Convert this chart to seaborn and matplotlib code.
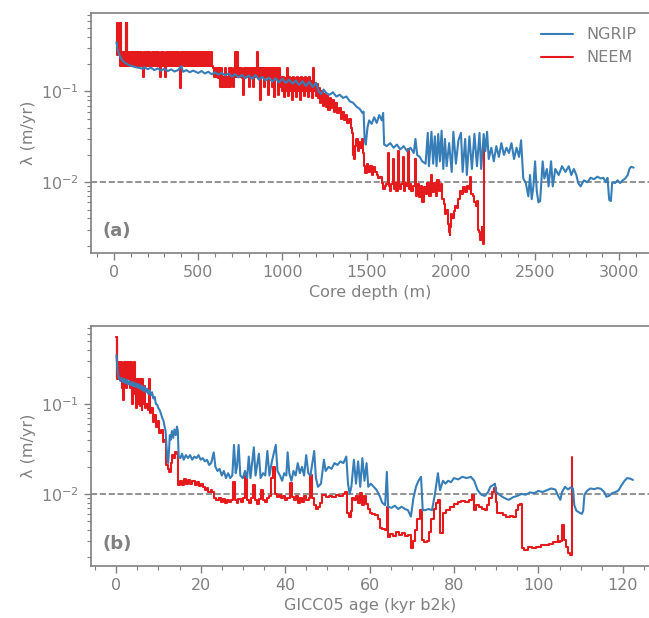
import numpy as np
import pandas as pd
import matplotlib
matplotlib.use("Agg")
import matplotlib.pyplot as plt
from matplotlib.ticker import MultipleLocator
import seaborn as sns

# ---------------- data: panel (a), vs core depth ----------------
ngrip_depth = [15, 20, 30, 40, 55, 70, 90, 110, 130, 150, 170, 180, 200, 220, 240, 260, 280, 300, 320, 340,
               360, 380, 400, 410, 430, 450, 470, 500, 520, 540, 560, 580, 600, 620, 640, 660, 680, 700, 720, 740,
               760, 780, 800, 820, 840, 860, 880, 900, 920, 940, 960, 980, 1000, 1020, 1040, 1060, 1080, 1100, 1120, 1140,
               1160, 1180, 1200, 1215, 1230, 1245, 1260, 1280, 1300, 1320, 1340, 1360, 1380, 1400, 1420, 1440, 1460, 1475, 1482, 1488,
               1495, 1505, 1515, 1530, 1545, 1560, 1575, 1590, 1598, 1604, 1620, 1640, 1660, 1680, 1700, 1720, 1740, 1760, 1780, 1790,
               1800, 1815, 1830, 1850, 1863, 1870, 1885, 1895, 1905, 1915, 1925, 1935, 1945, 1955, 1965, 1975, 1990, 2005, 2015, 2030,
               2045, 2060, 2070, 2085, 2095, 2110, 2125, 2140, 2155, 2170, 2180, 2195, 2205, 2215, 2225, 2240, 2255, 2270, 2285, 2300,
               2315, 2330, 2345, 2360, 2375, 2390, 2405, 2417, 2430, 2445, 2460, 2470, 2480, 2490, 2500, 2510, 2520, 2530, 2545, 2555,
               2570, 2580, 2595, 2605, 2620, 2640, 2660, 2680, 2700, 2715, 2730, 2745, 2756, 2770, 2790, 2810, 2830, 2850, 2870, 2890,
               2905, 2920, 2930, 2940, 2950, 2958, 2975, 2990, 3005, 3020, 3035, 3050, 3060, 3070, 3085]
ngrip_lam_d = [0.35, 0.30, 0.26, 0.235, 0.215, 0.205, 0.195, 0.19, 0.185, 0.182, 0.178, 0.186, 0.176, 0.183, 0.172, 0.18, 0.17, 0.178, 0.168, 0.175,
               0.166, 0.172, 0.19, 0.165, 0.172, 0.163, 0.17, 0.16, 0.168, 0.158, 0.165, 0.155, 0.163, 0.153, 0.16, 0.15, 0.158, 0.146, 0.155, 0.143,
               0.152, 0.14, 0.15, 0.138, 0.152, 0.135, 0.145, 0.132, 0.142, 0.128, 0.14, 0.126, 0.138, 0.124, 0.135, 0.122, 0.132, 0.118, 0.13, 0.115,
               0.128, 0.112, 0.125, 0.10, 0.094, 0.105, 0.096, 0.092, 0.098, 0.088, 0.092, 0.085, 0.088, 0.078, 0.075, 0.068, 0.064, 0.058, 0.06, 0.03,
               0.026, 0.04, 0.048, 0.044, 0.052, 0.045, 0.055, 0.048, 0.058, 0.026, 0.025, 0.027, 0.024, 0.026, 0.023, 0.025, 0.022, 0.024, 0.021, 0.03,
               0.02, 0.019, 0.017, 0.016, 0.035, 0.015, 0.036, 0.016, 0.032, 0.015, 0.034, 0.017, 0.037, 0.014, 0.03, 0.015, 0.027, 0.013, 0.036, 0.016,
               0.029, 0.035, 0.013, 0.03, 0.012, 0.032, 0.014, 0.034, 0.015, 0.035, 0.014, 0.034, 0.022, 0.036, 0.018, 0.024, 0.017, 0.025, 0.019, 0.027,
               0.02, 0.024, 0.021, 0.027, 0.018, 0.024, 0.019, 0.029, 0.011, 0.0098, 0.007, 0.012, 0.0065, 0.009, 0.017, 0.008, 0.006, 0.0062, 0.017, 0.011,
               0.014, 0.009, 0.017, 0.009, 0.014, 0.012, 0.015, 0.013, 0.015, 0.012, 0.014, 0.012, 0.0098, 0.009, 0.0105, 0.010, 0.0112, 0.0108, 0.0115, 0.011,
               0.0112, 0.010, 0.0112, 0.0064, 0.0062, 0.010, 0.0098, 0.0105, 0.0098, 0.0105, 0.011, 0.012, 0.014, 0.0148, 0.0145]

neem_depth = [18, 20, 23, 26, 29, 32, 35, 38, 41, 44, 48, 52, 56, 60, 64, 68, 71, 74, 77, 80,
              85, 90, 95, 100, 105, 110, 115, 120, 126, 132, 138, 144, 150, 156, 162, 168, 173, 178, 184, 190,
              196, 202, 208, 214, 220, 226, 232, 238, 244, 250, 256, 262, 268, 274, 280, 286, 292, 298, 304, 310,
              316, 322, 328, 334, 340, 346, 352, 358, 364, 370, 376, 382, 388, 393, 398, 404, 410, 416, 422, 428,
              434, 440, 446, 452, 458, 464, 470, 476, 482, 488, 494, 500, 506, 512, 518, 524, 530, 536, 542, 548,
              554, 560, 566, 572, 578, 584, 590, 596, 602, 608, 614, 620, 626, 632, 638, 644, 650, 656, 662, 668,
              674, 680, 686, 692, 698, 704, 710, 716, 720, 724, 730, 736, 740, 746, 752, 758, 764, 770, 776, 782,
              788, 794, 800, 806, 812, 818, 824, 830, 836, 842, 848, 851, 856, 862, 868, 874, 880, 886, 892, 898,
              904, 910, 916, 922, 928, 934, 940, 946, 952, 958, 964, 970, 976, 982, 988, 994, 1000, 1006, 1012, 1018,
              1024, 1030, 1036, 1042, 1048, 1054, 1060, 1066, 1072, 1078, 1084, 1090, 1096, 1102, 1108, 1114, 1120, 1126, 1132, 1138,
              1144, 1150, 1156, 1162, 1168, 1174, 1180, 1185, 1190, 1196, 1202, 1208, 1214, 1220, 1228, 1236, 1244, 1252, 1260, 1268,
              1276, 1284, 1292, 1300, 1310, 1320, 1330, 1340, 1350, 1360, 1370, 1380, 1390, 1400, 1410, 1417, 1422, 1428, 1434, 1442,
              1450, 1458, 1466, 1474, 1482, 1488, 1495, 1505, 1515, 1525, 1535, 1545, 1555, 1565, 1575, 1585, 1595, 1605, 1613, 1620,
              1628, 1634, 1642, 1650, 1658, 1664, 1672, 1680, 1688, 1694, 1702, 1710, 1718, 1724, 1732, 1740, 1748, 1754, 1762, 1770,
              1780, 1790, 1796, 1805, 1815, 1825, 1835, 1845, 1855, 1865, 1875, 1885, 1895, 1905, 1915, 1925, 1935, 1945, 1955, 1962,
              1970, 1978, 1985, 1990, 1994, 2000, 2006, 2012, 2020, 2030, 2040, 2050, 2060, 2070, 2080, 2090, 2100, 2110, 2119, 2125,
              2135, 2145, 2155, 2160, 2165, 2172, 2180, 2184, 2190, 2196, 2198]
neem_lam_d = [0.57, 0.25, 0.57, 0.27, 0.57, 0.27, 0.57, 0.19, 0.57, 0.27, 0.19, 0.27, 0.19, 0.27, 0.19, 0.27, 0.57, 0.19, 0.57, 0.19,
              0.27, 0.19, 0.27, 0.19, 0.27, 0.19, 0.27, 0.19, 0.27, 0.19, 0.27, 0.19, 0.27, 0.19, 0.27, 0.19, 0.145, 0.27, 0.19, 0.27,
              0.19, 0.27, 0.19, 0.27, 0.19, 0.27, 0.19, 0.27, 0.19, 0.27, 0.19, 0.27, 0.19, 0.145, 0.27, 0.19, 0.27, 0.19, 0.145, 0.27,
              0.19, 0.27, 0.19, 0.27, 0.19, 0.27, 0.19, 0.27, 0.19, 0.27, 0.19, 0.27, 0.19, 0.11, 0.27, 0.19, 0.27, 0.19, 0.27, 0.19,
              0.27, 0.19, 0.27, 0.19, 0.27, 0.19, 0.27, 0.19, 0.27, 0.19, 0.27, 0.19, 0.27, 0.19, 0.27, 0.19, 0.27, 0.19, 0.27, 0.19,
              0.27, 0.19, 0.27, 0.19, 0.27, 0.19, 0.18, 0.145, 0.18, 0.145, 0.18, 0.14, 0.18, 0.112, 0.18, 0.112, 0.145, 0.112, 0.18, 0.112,
              0.145, 0.112, 0.18, 0.112, 0.18, 0.145, 0.112, 0.18, 0.27, 0.145, 0.18, 0.27, 0.145, 0.18, 0.145, 0.18, 0.14, 0.092, 0.18, 0.145,
              0.18, 0.145, 0.18, 0.112, 0.18, 0.145, 0.18, 0.112, 0.18, 0.145, 0.18, 0.27, 0.145, 0.18, 0.08, 0.18, 0.145, 0.18, 0.112, 0.18,
              0.145, 0.18, 0.092, 0.18, 0.145, 0.18, 0.112, 0.18, 0.087, 0.18, 0.145, 0.18, 0.092, 0.18, 0.112, 0.145, 0.10, 0.145, 0.087, 0.14,
              0.10, 0.18, 0.09, 0.145, 0.10, 0.14, 0.08, 0.145, 0.10, 0.14, 0.087, 0.145, 0.10, 0.14, 0.08, 0.145, 0.10, 0.14, 0.09, 0.145,
              0.10, 0.14, 0.087, 0.145, 0.10, 0.13, 0.085, 0.18, 0.10, 0.125, 0.09, 0.12, 0.085, 0.11, 0.075, 0.10, 0.07, 0.095, 0.068, 0.09,
              0.062, 0.085, 0.065, 0.08, 0.06, 0.075, 0.058, 0.065, 0.05, 0.06, 0.048, 0.055, 0.045, 0.05, 0.04, 0.035, 0.02, 0.018, 0.025, 0.03,
              0.022, 0.028, 0.024, 0.03, 0.021, 0.015, 0.0128, 0.016, 0.013, 0.015, 0.012, 0.0148, 0.013, 0.012, 0.011, 0.0115, 0.0098, 0.0085, 0.009, 0.0095,
              0.021, 0.009, 0.008, 0.0095, 0.018, 0.0085, 0.0098, 0.008, 0.022, 0.009, 0.0085, 0.0095, 0.019, 0.008, 0.0098, 0.009, 0.023, 0.0085, 0.0095, 0.008,
              0.0092, 0.018, 0.007, 0.0095, 0.0068, 0.009, 0.006, 0.0088, 0.0075, 0.0098, 0.007, 0.012, 0.0078, 0.0098, 0.007, 0.0105, 0.008, 0.0095, 0.0065, 0.0058,
              0.0045, 0.005, 0.0035, 0.0028, 0.0026, 0.0032, 0.0045, 0.004, 0.0048, 0.0055, 0.0052, 0.0065, 0.008, 0.0075, 0.0088, 0.0078, 0.009, 0.0085, 0.0115, 0.0075,
              0.007, 0.006, 0.0055, 0.0062, 0.003, 0.0028, 0.0023, 0.0032, 0.0024, 0.0021, 0.027]

# ---------------- data: panel (b), vs GICC05 age ----------------
ngrip_age = [0.05, 0.2, 0.4, 0.6, 0.8, 1.0, 1.3, 1.6, 1.9, 2.2, 2.5, 2.8, 3.1, 3.4, 3.7, 4.0, 4.3, 4.6, 4.9, 5.2,
             5.5, 5.8, 6.1, 6.4, 6.7, 7.0, 7.3, 7.6, 7.9, 8.2, 8.5, 8.8, 9.1, 9.4, 9.7, 10.0, 10.3, 10.6, 10.9, 11.2,
             11.5, 11.7, 11.9, 12.1, 12.3, 12.5, 12.7, 12.9, 13.2, 13.5, 13.8, 14.1, 14.4, 14.6, 14.8, 15.2, 15.6, 16.0, 16.5, 17.0,
             17.5, 18.0, 18.5, 19.0, 19.5, 20.0, 20.5, 21.0, 21.5, 22.0, 22.5, 23.1, 23.5, 24.0, 24.5, 25.0, 25.5, 26.0, 26.5, 27.0,
             27.5, 27.9, 28.3, 28.6, 29.0, 29.4, 30.0, 30.5, 31.0, 31.4, 31.8, 32.6, 33.0, 33.8, 34.2, 34.8, 35.3, 35.8, 36.3, 36.8,
             37.3, 37.8, 38.2, 38.8, 39.3, 39.8, 40.3, 40.6, 41.0, 41.5, 42.0, 42.5, 43.0, 43.5, 44.0, 44.5, 45.0, 45.5, 46.0, 46.9,
             47.3, 47.8, 48.5, 49.2, 49.6, 50.3, 51.0, 51.7, 52.4, 53.1, 53.8, 54.5, 54.9, 55.3, 55.7, 56.3, 56.8, 57.3, 57.8, 58.3,
             58.8, 59.3, 59.7, 60.3, 61.0, 61.7, 62.4, 63.0, 63.7, 64.1, 64.4, 65.2, 66.0, 66.8, 67.6, 68.4, 69.1, 69.8, 70.4, 71.0,
             71.6, 72.2, 72.6, 73.2, 74.0, 74.8, 75.5, 76.2, 76.7, 77.4, 78.0, 78.6, 79.3, 80.0, 81.0, 82.0, 83.0, 84.0, 84.8, 85.6,
             86.5, 87.3, 88.1, 88.6, 89.2, 89.7, 90.0, 90.8, 91.6, 92.4, 93.0, 94.0, 95.0, 96.0, 97.0, 98.0, 99.0, 100.0, 101.0, 102.0,
             103.0, 104.0, 104.7, 105.2, 105.6, 106.3, 107.0, 107.6, 108.2, 108.5, 109.0, 109.7, 110.3, 110.6, 110.9, 111.5, 112.3, 113.2, 114.0, 114.8,
             115.6, 116.1, 116.7, 117.5, 118.3, 119.0, 119.7, 120.4, 121.0, 121.7, 122.4]
ngrip_lam_a = [0.35, 0.28, 0.22, 0.20, 0.19, 0.18, 0.195, 0.175, 0.19, 0.17, 0.185, 0.165, 0.18, 0.162, 0.176, 0.158, 0.172, 0.155, 0.168, 0.15,
               0.165, 0.145, 0.16, 0.14, 0.155, 0.135, 0.148, 0.13, 0.142, 0.125, 0.135, 0.115, 0.12, 0.10, 0.098, 0.09, 0.085, 0.078, 0.07, 0.065,
               0.055, 0.05, 0.035, 0.026, 0.022, 0.03, 0.045, 0.04, 0.05, 0.042, 0.052, 0.045, 0.056, 0.05, 0.026, 0.025, 0.028, 0.024, 0.027, 0.025,
               0.027, 0.024, 0.026, 0.025, 0.027, 0.024, 0.025, 0.023, 0.024, 0.021, 0.022, 0.029, 0.02, 0.018, 0.019, 0.016, 0.018, 0.015, 0.017, 0.015,
               0.016, 0.035, 0.017, 0.02, 0.035, 0.016, 0.015, 0.018, 0.015, 0.026, 0.015, 0.033, 0.016, 0.028, 0.015, 0.017, 0.016, 0.03, 0.016, 0.022,
               0.028, 0.035, 0.018, 0.016, 0.014, 0.017, 0.016, 0.029, 0.017, 0.014, 0.018, 0.016, 0.022, 0.017, 0.02, 0.016, 0.027, 0.017, 0.016, 0.03,
               0.015, 0.012, 0.013, 0.024, 0.018, 0.02, 0.019, 0.022, 0.021, 0.023, 0.022, 0.026, 0.013, 0.010, 0.012, 0.024, 0.013, 0.023, 0.012, 0.025,
               0.014, 0.022, 0.012, 0.013, 0.012, 0.011, 0.0095, 0.008, 0.0075, 0.0176, 0.0072, 0.007, 0.0074, 0.0068, 0.0072, 0.0068, 0.0066, 0.0056, 0.009, 0.012,
               0.014, 0.0155, 0.0066, 0.0066, 0.0068, 0.0066, 0.010, 0.017, 0.011, 0.014, 0.013, 0.014, 0.0135, 0.015, 0.0145, 0.0155, 0.015, 0.0155, 0.014, 0.011,
               0.0098, 0.0095, 0.0105, 0.012, 0.0125, 0.013, 0.0105, 0.0098, 0.0092, 0.0088, 0.0086, 0.0092, 0.0095, 0.010, 0.0098, 0.0104, 0.0102, 0.0108, 0.0105, 0.011,
               0.0115, 0.0112, 0.0095, 0.0086, 0.0105, 0.012, 0.0112, 0.0118, 0.0115, 0.0075, 0.0065, 0.0062, 0.006, 0.0065, 0.0098, 0.0108, 0.0115, 0.0113, 0.0116, 0.0114,
               0.0105, 0.0093, 0.0095, 0.0102, 0.0105, 0.011, 0.0125, 0.014, 0.015, 0.0148, 0.0143]

neem_age = [0.05, 0.1, 0.15, 0.3, 0.5, 0.7, 0.9, 1.1, 1.3, 1.5, 1.7, 1.9, 2.1, 2.3, 2.5, 2.7, 2.9, 3.1, 3.3, 3.5,
            3.7, 3.9, 4.1, 4.3, 4.5, 4.7, 4.9, 5.1, 5.3, 5.5, 5.7, 5.9, 6.1, 6.3, 6.5, 6.8, 7.0, 7.3, 7.6, 7.9,
            8.1, 8.4, 8.8, 9.2, 9.6, 10.0, 10.4, 10.8, 11.2, 11.6, 12.0, 12.4, 12.8, 13.1, 13.4, 13.8, 14.2, 14.6, 14.8, 15.3,
            15.8, 16.3, 16.8, 17.3, 17.8, 18.3, 18.8, 19.3, 19.8, 20.3, 20.7, 21.2, 21.6, 22.1, 22.6, 23.0, 23.5, 24.0, 24.5, 25.0,
            25.5, 26.0, 26.5, 27.0, 27.5, 27.9, 28.3, 28.7, 29.2, 29.7, 30.2, 30.7, 31.1, 31.6, 32.1, 32.6, 33.0, 33.5, 34.0, 34.5,
            35.0, 35.5, 36.0, 36.5, 37.0, 37.4, 37.8, 38.3, 38.8, 39.3, 39.8, 40.3, 40.8, 41.3, 41.8, 42.3, 42.8, 43.3, 43.8, 44.3,
            44.8, 45.3, 45.8, 46.2, 46.6, 47.0, 47.5, 48.0, 48.5, 49.2, 50.0, 50.8, 51.6, 52.4, 53.2, 54.0, 54.4, 54.9, 55.3, 55.7,
            56.0, 56.5, 57.0, 57.5, 58.0, 58.4, 58.8, 59.3, 59.8, 60.3, 61.0, 61.7, 62.2, 62.7, 63.3, 63.9, 64.3, 64.6, 65.3, 66.0,
            66.7, 67.4, 68.1, 68.8, 69.5, 70.0, 70.5, 71.0, 71.6, 72.2, 72.6, 73.2, 73.8, 74.3, 74.9, 75.5, 76.0, 76.5, 77.0, 77.7,
            78.6, 79.5, 80.4, 81.3, 82.2, 83.1, 84.0, 84.5, 84.8, 85.5, 86.2, 87.0, 87.6, 88.1, 88.6, 89.2, 89.7, 90.0, 90.4, 91.2,
            92.0, 92.8, 93.6, 94.4, 95.0, 95.5, 95.9, 96.3, 97.0, 98.0, 99.0, 100.0, 101.0, 102.0, 103.0, 104.0, 104.5, 104.6, 104.9, 105.5,
            105.8, 106.2, 106.8, 107.4, 107.8, 107.9]
neem_lam_a = [0.55, 0.20, 0.55, 0.19, 0.29, 0.19, 0.29, 0.19, 0.29, 0.15, 0.11, 0.29, 0.19, 0.29, 0.15, 0.29, 0.19, 0.29, 0.15, 0.19,
              0.29, 0.10, 0.19, 0.29, 0.13, 0.19, 0.09, 0.19, 0.10, 0.19, 0.095, 0.19, 0.085, 0.19, 0.10, 0.16, 0.09, 0.10, 0.085, 0.19,
              0.08, 0.09, 0.063, 0.075, 0.055, 0.065, 0.048, 0.052, 0.038, 0.04, 0.021, 0.019, 0.0176, 0.022, 0.027, 0.025, 0.029, 0.028, 0.0126, 0.014,
              0.0125, 0.0145, 0.013, 0.0142, 0.0128, 0.014, 0.0125, 0.0135, 0.0122, 0.013, 0.0118, 0.011, 0.0115, 0.0105, 0.011, 0.0105, 0.009, 0.0085, 0.009, 0.0082,
              0.0088, 0.008, 0.0086, 0.0082, 0.0085, 0.0136, 0.0085, 0.008, 0.0088, 0.0082, 0.009, 0.0162, 0.0085, 0.008, 0.009, 0.0125, 0.0085, 0.0078, 0.0088, 0.011,
              0.0085, 0.0082, 0.009, 0.0095, 0.015, 0.020, 0.010, 0.0093, 0.0098, 0.009, 0.0095, 0.0086, 0.009, 0.0133, 0.0092, 0.0085, 0.0095, 0.008, 0.009, 0.0082,
              0.0095, 0.0085, 0.009, 0.0162, 0.009, 0.0075, 0.0068, 0.0072, 0.008, 0.0098, 0.0093, 0.0096, 0.0092, 0.0098, 0.0095, 0.010, 0.0105, 0.0062, 0.0056, 0.0065,
              0.009, 0.0085, 0.0095, 0.008, 0.0102, 0.0075, 0.0095, 0.0078, 0.0068, 0.0062, 0.006, 0.0058, 0.0052, 0.0042, 0.0041, 0.004, 0.0072, 0.0033, 0.0036, 0.0034,
              0.0038, 0.0035, 0.0037, 0.0034, 0.0035, 0.0025, 0.003, 0.004, 0.0052, 0.0066, 0.0031, 0.0029, 0.003, 0.0038, 0.0052, 0.0068, 0.008, 0.0086, 0.0037, 0.0062,
              0.0066, 0.0072, 0.0078, 0.0082, 0.0084, 0.0082, 0.0085, 0.0098, 0.0066, 0.0075, 0.0072, 0.0068, 0.0066, 0.0075, 0.009, 0.0105, 0.0115, 0.0082, 0.0062, 0.0062,
              0.0058, 0.0056, 0.0057, 0.0056, 0.0066, 0.0076, 0.0078, 0.0025, 0.0024, 0.0026, 0.0025, 0.0026, 0.0027, 0.0027, 0.0028, 0.0029, 0.0029, 0.0034, 0.0029, 0.003,
              0.0045, 0.0031, 0.0026, 0.0022, 0.0021, 0.026]

series_labels = ["NGRIP", "NEEM"]
colors = {"NGRIP": "#377eb8", "NEEM": "#e41a1c"}
threshold = 0.01

df_a_ngrip = pd.DataFrame({"x": ngrip_depth, "lam": ngrip_lam_d})
df_a_neem = pd.DataFrame({"x": neem_depth, "lam": neem_lam_d})
df_b_ngrip = pd.DataFrame({"x": ngrip_age, "lam": ngrip_lam_a})
df_b_neem = pd.DataFrame({"x": neem_age, "lam": neem_lam_a})

sns.set_style("ticks")
plt.rcParams["font.family"] = ["DejaVu Sans"]
plt.rcParams["path.simplify"] = False
gray = "#808080"
fs = 11.5

fig = plt.figure(figsize=(6.49, 6.18), dpi=100)
ax1 = fig.add_axes([0.140, 0.5906, 0.862, 0.3884])
ax2 = fig.add_axes([0.140, 0.0841, 0.862, 0.3889])

def draw(ax, d_ng, d_ne, legend):
    sns.lineplot(data=d_ng, x="x", y="lam", ax=ax, color=colors["NGRIP"], lw=1.5,
                 estimator=None, sort=False, label="NGRIP" if legend else None, zorder=3)
    sns.lineplot(data=d_ne, x="x", y="lam", ax=ax, color=colors["NEEM"], lw=1.5,
                 estimator=None, sort=False, label="NEEM" if legend else None, zorder=2,
                 drawstyle="steps-mid")
    ax.set_yscale("log")
    ax.axhline(threshold, color=gray, ls="--", lw=1.2, zorder=1)
    for s in ["left", "top", "bottom"]:
        ax.spines[s].set_color(gray)
        ax.spines[s].set_linewidth(1.2)
    ax.spines["right"].set_visible(False)
    ax.tick_params(which="both", colors=gray, labelcolor=gray, labelsize=fs, direction="out")
    ax.tick_params(which="major", length=5, width=1)
    ax.tick_params(which="minor", length=3, width=0.8)
    ax.set_ylabel("λ (m/yr)", color=gray, fontsize=fs)

draw(ax1, df_a_ngrip, df_a_neem, True)
draw(ax2, df_b_ngrip, df_b_neem, False)

ax1.set_xlim(-137, 3184)
ax1.set_ylim(0.00166, 0.733)
ax1.xaxis.set_major_locator(MultipleLocator(500))
ax1.xaxis.set_minor_locator(MultipleLocator(100))
ax1.set_xlabel("Core depth (m)", color=gray, fontsize=fs)
ax1.text(0.021, 0.092, "(a)", transform=ax1.transAxes, color=gray, fontsize=13,
         fontweight="bold", ha="left", va="center")
leg = ax1.legend(loc="upper right", frameon=False, fontsize=fs)
for t in leg.get_texts():
    t.set_color(gray)

ax2.set_xlim(-6.0, 126.5)
ax2.set_ylim(0.00158, 0.741)
ax2.xaxis.set_major_locator(MultipleLocator(20))
ax2.xaxis.set_minor_locator(MultipleLocator(5))
ax2.set_xlabel("GICC05 age (kyr b2k)", color=gray, fontsize=fs)
ax2.text(0.021, 0.092, "(b)", transform=ax2.transAxes, color=gray, fontsize=13,
         fontweight="bold", ha="left", va="center")
if ax2.get_legend() is not None:
    ax2.get_legend().remove()

fig.savefig("out.png", dpi=100)
